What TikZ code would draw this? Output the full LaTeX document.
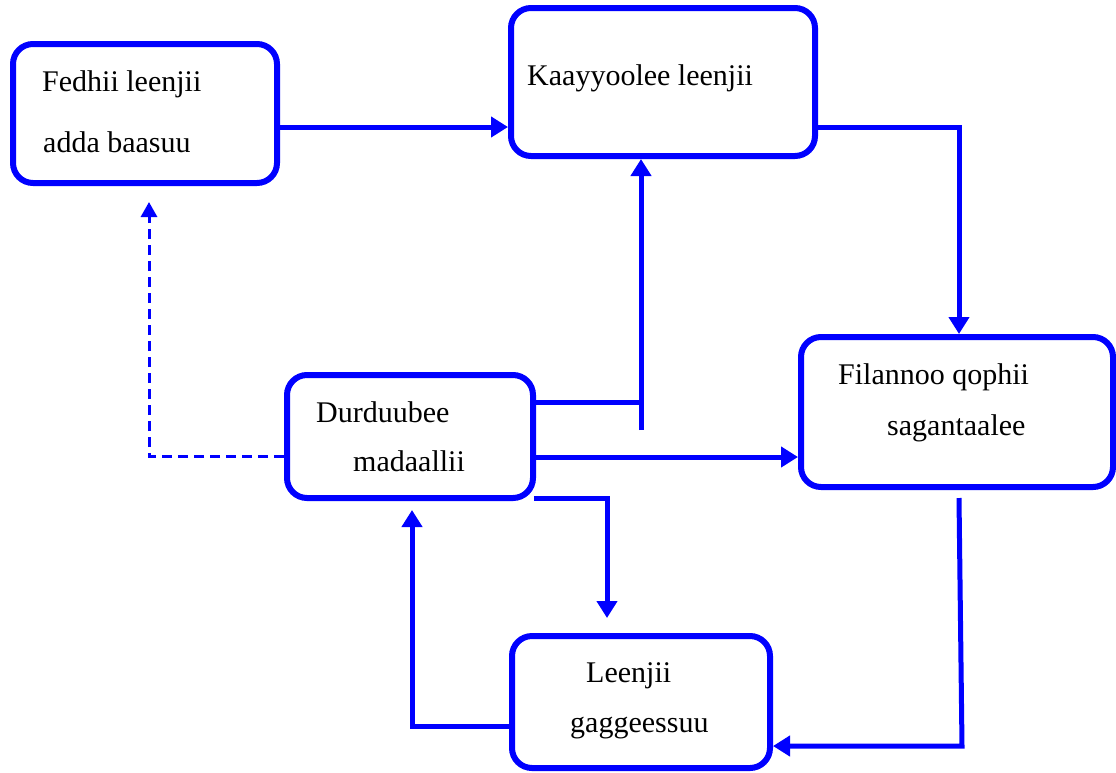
\documentclass[tikz,border=0pt]{standalone}
\usepackage{fontspec}
\setmainfont{Liberation Serif}
\usetikzlibrary{arrows.meta}
\definecolor{flowblue}{RGB}{0,0,255}
\tikzset{
  stagebox/.style={draw=flowblue, line width=6pt, rounded corners=20pt, inner sep=0pt,
    minimum width=#1},
  lbl/.style={anchor=base west, inner sep=0pt, font=\fontsize{30pt}{36pt}\selectfont, text=black},
  conn/.style={draw=flowblue, line width=5pt, -{Triangle[length=17pt,width=20pt]}},
  plainconn/.style={draw=flowblue, line width=5pt},
  dashconn/.style={draw=flowblue, line width=3pt, dash pattern=on 10pt off 6pt,
    -{Triangle[length=15pt,width=16pt]}}
}
\begin{document}
\begin{tikzpicture}[x=1pt,y=-1pt]
\useasboundingbox (0,0) rectangle (1116,772);
% boxes
\node[stagebox=264pt, minimum height=139pt] (A) at (145,113.5) {};
\node[stagebox=304pt, minimum height=148pt] (B) at (663,82) {};
\node[stagebox=312pt, minimum height=150pt] (C) at (957,412) {};
\node[stagebox=246pt, minimum height=123pt] (D) at (410,436.5) {};
\node[stagebox=258pt, minimum height=132pt] (E) at (641,702) {};
% labels
\node[lbl] (A1) at (42,91) {Fedhii leenjii};
\node[lbl] (A2) at (43,152) {adda baasuu};
\node[lbl] (B1) at (527,85) {Kaayyoolee leenjii};
\node[lbl] (C1) at (838,384) {Filannoo qophii};
\node[lbl] (C2) at (887,435) {sagantaalee};
\node[lbl] (D1) at (316,422) {Durduubee};
\node[lbl] (D2) at (353,471) {madaallii};
\node[lbl] (E1) at (586,682) {Leenjii};
\node[lbl] (E2) at (570,732) {gaggeessuu};
% helper coordinates
\coordinate (aby) at (400,127);
\coordinate (bcx) at (959,127);
\coordinate (dbx) at (641,402);
\coordinate (dbend) at (641,430);
\coordinate (dcy) at (700,457);
\coordinate (de2) at (607,498);
\coordinate (de3) at (607,618);
\coordinate (ed) at (412,726);
\coordinate (edtip) at (412,510);
\coordinate (ce1) at ([shift={(2,8)}]C.south);
\coordinate (ce2) at (962,746);
\coordinate (da) at (149,456);
\coordinate (datip) at (149,202);
% connectors
\draw[conn] (A.east |- aby) -- (B.west |- aby);
\draw[conn] (B.east |- bcx) -- (bcx) -- (bcx |- C.north);
\draw[plainconn] (D.east |- dbx) -- (dbx);
\draw[conn] (dbend) -- (dbend |- B.south);
\draw[conn] (D.east |- dcy) -- (C.west |- dcy);
\draw[conn] ([xshift=-2pt]D.south east |- de2) -- (de2) -- (de3);
\draw[conn] (E.west |- ed) -- (ed) -- (edtip);
\draw[conn] (ce1) -- (ce2) -- (E.east |- ce2);
\draw[dashconn] (D.west |- da) -- (da) -- (datip);
\end{tikzpicture}
\end{document}
